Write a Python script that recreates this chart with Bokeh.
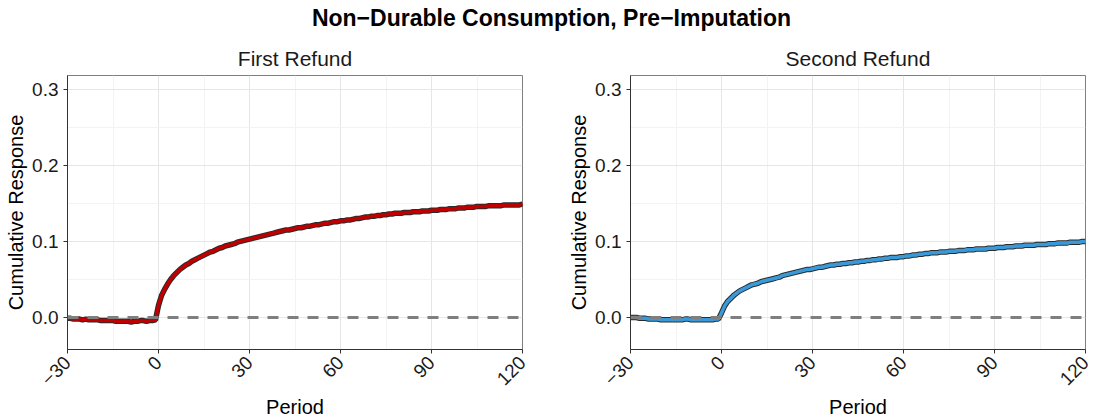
import math
from bokeh.plotting import figure
from bokeh.layouts import column, row
from bokeh.models import Span, FixedTicker, Range1d
from bokeh.embed import file_html
from bokeh.resources import INLINE

main_title = "Non−Durable Consumption, Pre−Imputation"
panel_titles = ["First Refund", "Second Refund"]
x_label = "Period"
y_label = "Cumulative Response"

periods = list(range(-30, 121))

first_refund = [
    # -30 .. -1
    -0.001, -0.001, -0.002, -0.002, -0.002, -0.003, -0.002, -0.003, -0.003, -0.003,
    -0.003, -0.004, -0.004, -0.004, -0.004, -0.004, -0.005, -0.005, -0.005, -0.005,
    -0.005, -0.006, -0.005, -0.005, -0.004, -0.004, -0.005, -0.004, -0.004, -0.003,
    # 0 .. 120
    0.016, 0.029, 0.037, 0.044, 0.050, 0.055, 0.059, 0.063, 0.066, 0.069,
    0.071, 0.074, 0.076, 0.078, 0.080, 0.082, 0.084, 0.086, 0.087, 0.089,
    0.091, 0.092, 0.094, 0.095, 0.096, 0.097, 0.099, 0.100, 0.101, 0.102,
    0.103, 0.104, 0.105, 0.106, 0.107, 0.108, 0.109, 0.110, 0.111, 0.112,
    0.113, 0.114, 0.115, 0.115, 0.116, 0.117, 0.118, 0.118, 0.119, 0.120,
    0.120, 0.121, 0.122, 0.122, 0.123, 0.124, 0.124, 0.125, 0.126, 0.126,
    0.127, 0.127, 0.128, 0.128, 0.129, 0.130, 0.130, 0.131, 0.132, 0.132,
    0.133, 0.133, 0.134, 0.134, 0.135, 0.135, 0.136, 0.136, 0.137, 0.137,
    0.137, 0.138, 0.138, 0.138, 0.139, 0.139, 0.139, 0.140, 0.140, 0.140,
    0.141, 0.141, 0.141, 0.142, 0.142, 0.142, 0.143, 0.143, 0.143, 0.144,
    0.144, 0.144, 0.145, 0.145, 0.145, 0.146, 0.146, 0.146, 0.146, 0.147,
    0.147, 0.147, 0.147, 0.147, 0.148, 0.148, 0.148, 0.148, 0.148, 0.148,
    0.149,
]

second_refund = [
    # -30 .. -1
    0.000, 0.000, 0.000, -0.001, -0.001, -0.001, -0.002, -0.002, -0.002, -0.002,
    -0.003, -0.003, -0.003, -0.003, -0.003, -0.003, -0.003, -0.003, -0.002, -0.002,
    -0.003, -0.003, -0.003, -0.003, -0.003, -0.003, -0.003, -0.003, -0.002, -0.002,
    # 0 .. 120
    0.006, 0.015, 0.021, 0.025, 0.029, 0.032, 0.035, 0.037, 0.039, 0.041,
    0.043, 0.044, 0.045, 0.047, 0.048, 0.049, 0.050, 0.051, 0.052, 0.053,
    0.055, 0.056, 0.057, 0.058, 0.059, 0.060, 0.061, 0.062, 0.063, 0.063,
    0.064, 0.065, 0.066, 0.066, 0.067, 0.068, 0.069, 0.069, 0.070, 0.070,
    0.071, 0.071, 0.072, 0.072, 0.073, 0.073, 0.074, 0.074, 0.075, 0.075,
    0.076, 0.076, 0.077, 0.077, 0.078, 0.078, 0.079, 0.079, 0.079, 0.080,
    0.080, 0.081, 0.081, 0.082, 0.082, 0.083, 0.083, 0.084, 0.084, 0.085,
    0.085, 0.085, 0.086, 0.086, 0.086, 0.087, 0.087, 0.087, 0.088, 0.088,
    0.088, 0.089, 0.089, 0.089, 0.090, 0.090, 0.090, 0.090, 0.091, 0.091,
    0.091, 0.092, 0.092, 0.092, 0.093, 0.093, 0.093, 0.094, 0.094, 0.094,
    0.095, 0.095, 0.095, 0.095, 0.096, 0.096, 0.096, 0.096, 0.097, 0.097,
    0.097, 0.098, 0.098, 0.098, 0.098, 0.099, 0.099, 0.099, 0.099, 0.100,
    0.100,
]

x_ticks = [-30, 0, 30, 60, 90, 120]
x_minor = [-15, 15, 45, 75, 105]
x_tick_labels = {-30: "−30", 0: "0", 30: "30", 60: "60", 90: "90", 120: "120"}
y_ticks = [0.0, 0.1, 0.2, 0.3]
y_minor = [0.05, 0.15, 0.25]
y_tick_labels = {0.0: "0.0", 0.1: "0.1", 0.2: "0.2", 0.3: "0.3"}

X_MIN, X_MAX = -30, 120
Y_MIN, Y_MAX = -0.042, 0.318

FONT = "Liberation Sans"


def make_panel(title_text, values, color, border_right):
    p = figure(frame_width=455, frame_height=274,
               x_range=Range1d(X_MIN, X_MAX), y_range=Range1d(Y_MIN, Y_MAX),
               output_backend="svg", toolbar_location=None,
               min_border_left=67, min_border_right=border_right,
               min_border_top=37, min_border_bottom=70,
               title=title_text)
    p.title.align = "center"
    p.title.text_font = FONT
    p.title.text_font_size = "21px"
    p.title.text_font_style = "normal"
    p.title.text_color = "#1a1a1a"
    p.title.standoff = 12
    p.outline_line_color = "#7f7f7f"
    p.outline_line_width = 1
    p.background_fill_color = "white"
    p.border_fill_color = "white"

    p.xaxis.ticker = FixedTicker(ticks=x_ticks, minor_ticks=x_minor)
    p.yaxis.ticker = FixedTicker(ticks=y_ticks, minor_ticks=y_minor)
    p.xaxis.major_label_overrides = x_tick_labels
    p.yaxis.major_label_overrides = y_tick_labels
    p.xaxis.major_label_orientation = math.pi / 4
    p.xaxis.axis_label = x_label
    p.yaxis.axis_label = y_label
    for ax in (p.xaxis, p.yaxis):
        ax.axis_line_color = "#333333"
        ax.major_tick_line_color = "#333333"
        ax.major_tick_out = 4
        ax.major_tick_in = 0
        ax.minor_tick_line_color = None
        ax.major_label_text_font = FONT
        ax.major_label_text_font_size = "19px"
        ax.major_label_text_color = "#1a1a1a"
        ax.axis_label_text_font = FONT
        ax.axis_label_text_font_size = "20px"
        ax.axis_label_text_font_style = "normal"
        ax.axis_label_text_color = "#000000"
    p.yaxis.major_label_standoff = 5
    p.yaxis.axis_label_standoff = 2
    p.xaxis.major_label_standoff = 6
    p.xaxis.axis_label_standoff = 2

    for g in (p.xgrid, p.ygrid):
        g.grid_line_color = "#e6e6e6"
        g.grid_line_width = 1
        g.minor_grid_line_color = "#f3f3f3"
        g.minor_grid_line_width = 1

    p.line(periods, values, line_color="#2a2a2a", line_width=5.5)
    p.line(periods, values, line_color=color, line_width=3.5)
    p.scatter(periods, values, size=3, fill_color=color, line_color=None)

    p.add_layout(Span(location=0, dimension="width", line_color="#7f7f7f",
                      line_width=3, line_dash="11 9"))
    return p


p1 = make_panel(panel_titles[0], first_refund, "#c00000", 41)
p2 = make_panel(panel_titles[1], second_refund, "#3a9ad9", 17)

t = figure(width=1102, height=38, output_backend="svg", toolbar_location=None,
           x_range=Range1d(0, 1), y_range=Range1d(0, 1), min_border=0,
           title=main_title)
t.title.align = "center"
t.title.text_font = FONT
t.title.text_font_size = "23px"
t.title.text_font_style = "bold"
t.title.text_color = "#000000"
t.title.standoff = 16
t.axis.visible = False
t.grid.visible = False
t.outline_line_color = None

layout = column(t, row(p1, p2, spacing=0), spacing=0)

with open("out.html", "w") as f:
    f.write(file_html(layout, INLINE))
